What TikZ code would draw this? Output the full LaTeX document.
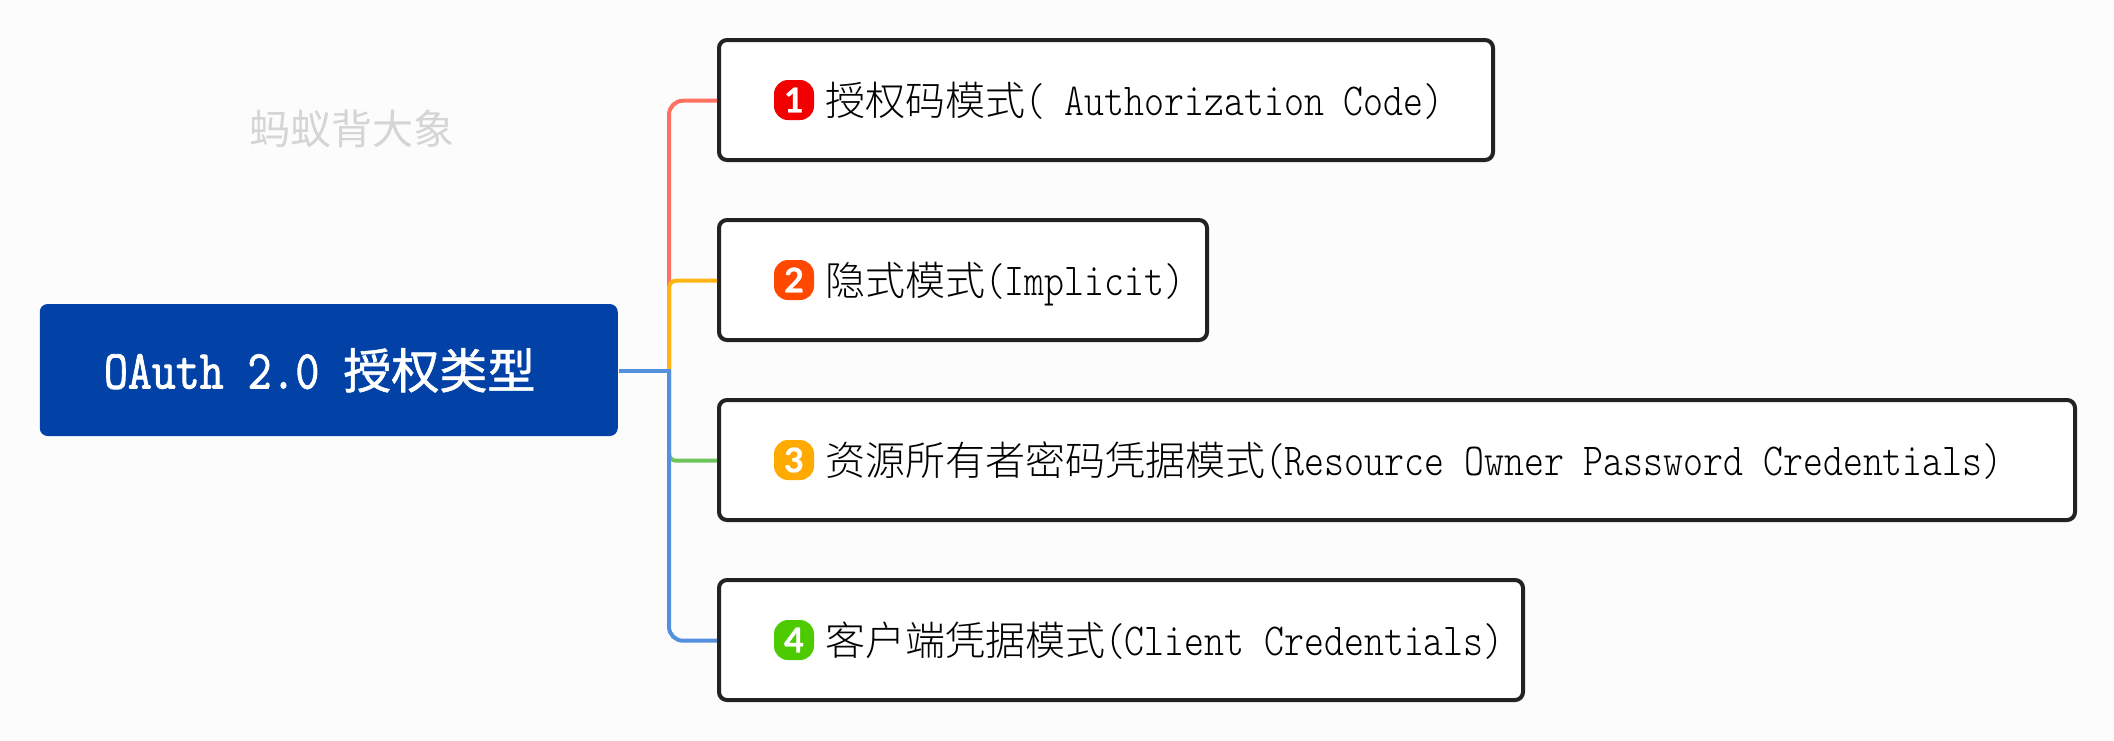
\documentclass[tikz,border=0pt]{standalone}
\usepackage{fontspec}
\setmainfont{Latin Modern Mono Light}[FakeStretch=0.829]
\newfontfamily\cjk{Noto Sans CJK SC}
\newfontfamily\cjklight{Noto Sans CJK SC Light}
\newfontfamily\rootlat{Latin Modern Mono}[FakeStretch=0.845,FakeBold=1.6]
\newfontfamily\rootcjk{Noto Sans CJK SC}[FakeBold=1.2]
\newfontfamily\digit{Lato}[Numbers=Lining,BoldFeatures={FakeBold=0.8}]
\newcommand{\zh}[1]{{\fontsize{40pt}{48pt}\cjklight #1}}
\definecolor{bgc}{HTML}{FCFCFC}
\definecolor{inkc}{HTML}{222222}
\definecolor{rootc}{HTML}{0242A6}
\definecolor{markc}{HTML}{D6D4D4}
\definecolor{linered}{HTML}{FF7262}
\definecolor{lineyel}{HTML}{FFB414}
\definecolor{linegrn}{HTML}{6CC65B}
\definecolor{lineblu}{HTML}{5490DE}
\definecolor{badgeone}{HTML}{F20000}
\definecolor{badgetwo}{HTML}{FF4800}
\definecolor{badgethree}{HTML}{FFAA00}
\definecolor{badgefour}{HTML}{4DCB00}
\tikzset{
  boxnode/.style={draw=inkc,fill=white,line width=4pt,rounded corners=8pt,anchor=west,outer sep=2pt,inner sep=0pt,minimum height=120pt},
  rootnode/.style={fill=rootc,rounded corners=8pt,outer sep=0pt,inner sep=0pt,minimum width=578pt,minimum height=132pt},
  badge/.style={rounded corners=14pt,outer sep=0pt,inner sep=0pt,minimum width=40pt,minimum height=40pt,text=white,font=\digit\bfseries\fontsize{34pt}{34pt}\selectfont},
  label/.style={anchor=base west,inner sep=0pt,outer sep=0pt,text=black,font=\fontsize{45.8pt}{48pt}\selectfont},
  link/.style={line width=4pt},
}
\begin{document}
\begin{tikzpicture}[x=1pt,y=-1pt]
\useasboundingbox (0,0) rectangle (2114,740);
\fill[bgc] (0,0) rectangle (2114,740);
\node[rootnode] (root) at (328.75,370) {};
\node[anchor=base west,inner sep=0pt,outer sep=0pt,text=white] (roottext) at (104,388.5)
  {\fontsize{55pt}{56pt}\rootlat OAuth 2.0 \fontsize{48pt}{56pt}\rootcjk 授权类型};
\node[inner sep=0pt,outer sep=0pt,text=markc] (mark) at (352,129) {\fontsize{41pt}{44pt}\cjk 蚂蚁背大象};

\node[boxnode,minimum width=774pt] (b1) at (717,100) {};
\node[boxnode,minimum width=488pt] (b2) at (717,280) {};
\node[boxnode,minimum width=1356pt] (b3) at (717,460) {};
\node[boxnode,minimum width=804pt] (b4) at (717,640) {};

\coordinate (tr) at (669,370.7);
\draw[link,linered,rounded corners=14pt] ([yshift=-0.7pt]b1.west) -- ([yshift=-0.7pt]b1.west -| tr) -- (tr);
\draw[link,lineyel,rounded corners=7pt] ([yshift=-0.7pt]b2.west) -- ([yshift=-0.7pt]b2.west -| tr) -- (tr);
\draw[link,linegrn,rounded corners=7pt] ([yshift=-0.7pt]b3.west) -- ([yshift=-0.7pt]b3.west -| tr) -- (tr);
\draw[link,lineblu,rounded corners=14pt] ([yshift=-0.7pt]b4.west) -- ([yshift=-0.7pt]b4.west -| tr) -- (tr);
\draw[link,lineblu] ([xshift=1pt,yshift=-0.7pt]root.east) -- ([xshift=2pt]tr);

\node[badge,fill=badgeone] (n1) at (794,100) {1};
\node[badge,fill=badgetwo] (n2) at (794,280) {2};
\node[badge,fill=badgethree] (n3) at (794,460) {3};
\node[badge,fill=badgefour] (n4) at (794,640) {4};

\node[label] (t1) at (825,115.5) {\zh{授权码模式}( Authorization Code)};
\node[label] (t2) at (825,295.5) {\zh{隐式模式}(Implicit)};
\node[label] (t3) at (825,475.5) {\zh{资源所有者密码凭据模式}(Resource Owner Password Credentials)};
\node[label] (t4) at (825,655.5) {\zh{客户端凭据模式}(Client Credentials)};
\end{tikzpicture}
\end{document}
